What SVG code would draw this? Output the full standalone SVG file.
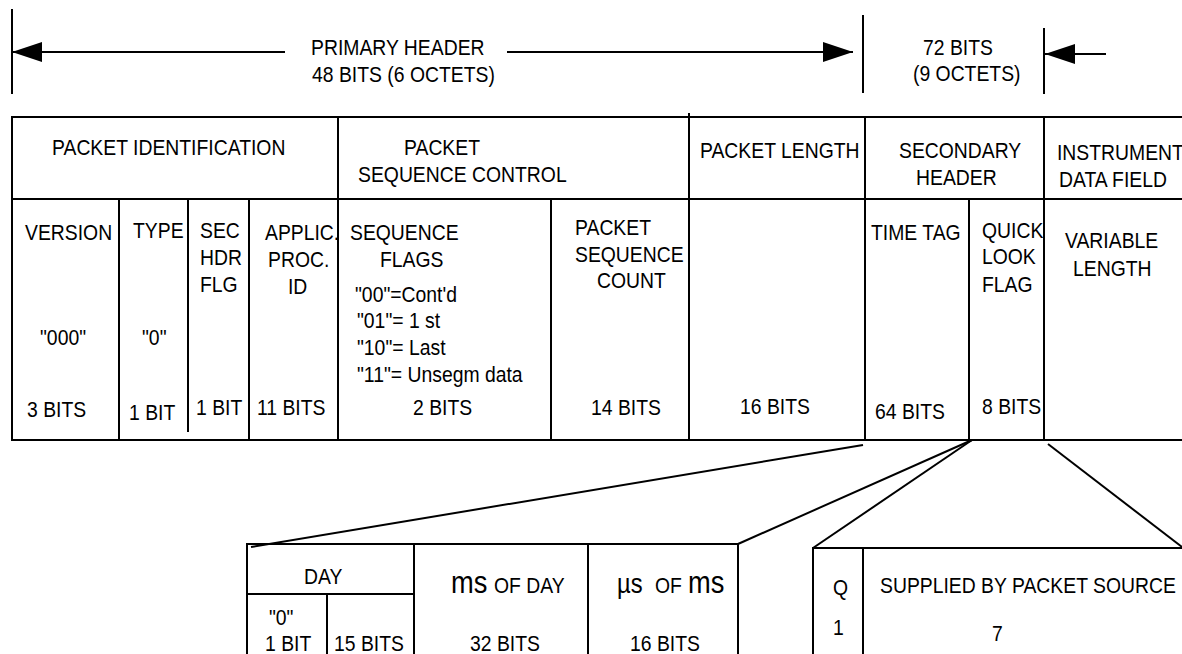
<svg xmlns="http://www.w3.org/2000/svg" width="1182" height="654" viewBox="0 0 1182 654">
<style>
text { font-family: "Liberation Sans", Arial, Helvetica, sans-serif; font-size: 22px; fill: #000; transform-box: fill-box; transform-origin: left center; transform: scaleX(0.88); }
.big { font-size: 31px; }
.mu { font-size: 27px; }
line { stroke: #000; stroke-width: 2; fill: none; }
</style>
<defs>
<marker id="ah" viewBox="0 0 30 20" refX="30" refY="10" markerWidth="30" markerHeight="20" markerUnits="userSpaceOnUse" orient="auto">
<path d="M0,0 L30,10 L0,20 Z" fill="#000"/>
</marker>
</defs>
<rect width="1182" height="654" fill="#fff"/>

<g id="dimensions">
<line x1="12" y1="9" x2="12" y2="94"/>
<line x1="285" y1="52" x2="12" y2="52" marker-end="url(#ah)"/>
<line x1="507" y1="52" x2="853" y2="52" marker-end="url(#ah)"/>
<line x1="863" y1="15" x2="863" y2="93"/>
<line x1="1044" y1="28" x2="1044" y2="94"/>
<line x1="1106" y1="54" x2="1045" y2="54" marker-end="url(#ah)"/>
<text x="311" y="55">PRIMARY HEADER</text>
<text x="312" y="82">48 BITS (6 OCTETS)</text>
<text x="923" y="55">72 BITS</text>
<text x="913" y="81">(9 OCTETS)</text>
</g>

<g id="table-frame">
<line x1="12" y1="117" x2="1182" y2="117"/>
<line x1="12" y1="199" x2="1182" y2="199"/>
<line x1="12" y1="440" x2="1182" y2="440"/>
<line x1="12" y1="116" x2="12" y2="441"/>
<line x1="338" y1="117" x2="338" y2="440"/>
<line x1="689" y1="113" x2="689" y2="440"/>
<line x1="865" y1="117" x2="865" y2="440"/>
<line x1="1044" y1="117" x2="1044" y2="440"/>
<line x1="119" y1="199" x2="119" y2="440"/>
<line x1="188" y1="199" x2="188" y2="432"/>
<line x1="249" y1="199" x2="249" y2="440"/>
<line x1="551" y1="199" x2="551" y2="440"/>
<line x1="969" y1="199" x2="969" y2="440"/>
</g>

<g id="packet-identification">
<text x="52" y="155">PACKET IDENTIFICATION</text>
</g>
<g id="version">
<text x="25" y="240">VERSION</text>
<text x="40" y="345">"000"</text>
<text x="27" y="417">3 BITS</text>
</g>
<g id="type">
<text x="133" y="238">TYPE</text>
<text x="142" y="345">"0"</text>
<text x="129" y="420">1 BIT</text>
</g>
<g id="sec-hdr-flg">
<text x="200" y="238">SEC</text>
<text x="200" y="265">HDR</text>
<text x="200" y="292">FLG</text>
<text x="196" y="415">1 BIT</text>
</g>
<g id="applic-proc-id">
<text x="265" y="240">APPLIC.</text>
<text x="268" y="267">PROC.</text>
<text x="288" y="294">ID</text>
<text x="257" y="415">11 BITS</text>
</g>
<g id="packet-sequence-control">
<text x="404" y="155">PACKET</text>
<text x="358" y="182">SEQUENCE CONTROL</text>
</g>
<g id="sequence-flags">
<text x="350" y="240">SEQUENCE</text>
<text x="380" y="267">FLAGS</text>
<text x="355" y="302">"00"=Cont'd</text>
<text x="357" y="328">"01"= 1 st</text>
<text x="357" y="355">"10"= Last</text>
<text x="357" y="382">"11"= Unsegm data</text>
<text x="413" y="415">2 BITS</text>
</g>
<g id="packet-sequence-count">
<text x="575" y="235">PACKET</text>
<text x="575" y="262">SEQUENCE</text>
<text x="597" y="288">COUNT</text>
<text x="591" y="415">14 BITS</text>
</g>
<g id="packet-length">
<text x="700" y="158">PACKET LENGTH</text>
<text x="740" y="414">16 BITS</text>
</g>
<g id="secondary-header">
<text x="899" y="158">SECONDARY</text>
<text x="916" y="185">HEADER</text>
</g>
<g id="time-tag">
<text x="871" y="240">TIME TAG</text>
<text x="875" y="419">64 BITS</text>
</g>
<g id="quick-look-flag">
<text x="982" y="238">QUICK</text>
<text x="982" y="264">LOOK</text>
<text x="982" y="292">FLAG</text>
<text x="982" y="414">8 BITS</text>
</g>
<g id="instrument-data-field">
<text x="1057" y="160">INSTRUMENT</text>
<text x="1059" y="187">DATA FIELD</text>
<text x="1065" y="248">VARIABLE</text>
<text x="1073" y="276">LENGTH</text>
</g>

<g id="connectors">
<line x1="251" y1="547" x2="863" y2="445"/>
<line x1="738" y1="544" x2="972" y2="440"/>
<line x1="813" y1="548" x2="972" y2="440"/>
<line x1="1048" y1="444" x2="1182" y2="547"/>
</g>

<g id="time-tag-detail">
<line x1="246" y1="544" x2="739" y2="544"/>
<line x1="247" y1="543" x2="247" y2="654"/>
<line x1="247" y1="594" x2="414" y2="594"/>
<line x1="327" y1="594" x2="327" y2="654"/>
<line x1="414" y1="544" x2="414" y2="654"/>
<line x1="588" y1="544" x2="588" y2="654"/>
<line x1="738" y1="544" x2="738" y2="654"/>
<text x="304" y="584">DAY</text>
<text x="269" y="625">"0"</text>
<text x="265" y="651">1 BIT</text>
<text x="334" y="651">15 BITS</text>
<text class="big" x="451" y="593">ms</text>
<text x="494" y="593">OF DAY</text>
<text x="470" y="651">32 BITS</text>
<text class="mu" x="617" y="593">µs</text>
<text x="655" y="593">OF</text>
<text class="big" x="688" y="593">ms</text>
<text x="630" y="651">16 BITS</text>
</g>

<g id="quick-look-detail">
<line x1="812" y1="548" x2="1182" y2="548"/>
<line x1="813" y1="547" x2="813" y2="654"/>
<line x1="863" y1="548" x2="863" y2="654"/>
<text x="833" y="595">Q</text>
<text x="833" y="635">1</text>
<text x="880" y="593">SUPPLIED BY PACKET SOURCE</text>
<text x="992" y="641">7</text>
</g>
</svg>
